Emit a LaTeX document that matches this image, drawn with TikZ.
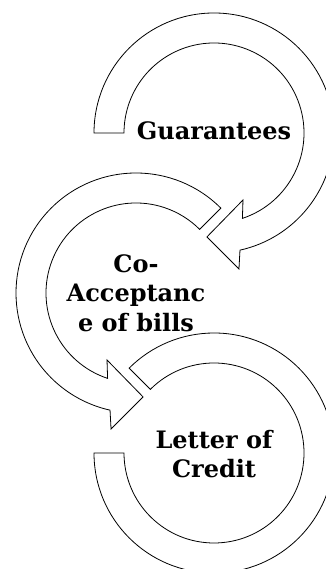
\documentclass[tikz,border=0pt]{standalone}
\usepackage{fontspec}
\newfontfamily\slabfont{DejaVu Serif}
\usetikzlibrary{calc}
\tikzset{
  band/.style={draw, fill=white, line width=0.8pt},
  lbl/.style={font=\slabfont\bfseries\fontsize{24}{29.5}\selectfont, align=center, inner sep=0pt},
}

\begin{document}
\begin{tikzpicture}[x=1pt, y=1pt]
  \useasboundingbox (0,0) rectangle (325,569);
  \coordinate (c1) at (214,436);
  \coordinate (c2) at (136,276);
  \coordinate (c3) at (214,116);

  % first arrow, turns clockwise
  \draw[band] ($(c1)+(180:120)$) arc[start angle=180, end angle=-77.5, radius=120]
    -- ($(c1)+(-79.6:138.3)$) -- ($(c1)+(-93.9:104.2)$) -- ($(c1)+(-66.6:73)$)
    -- ($(c1)+(-71.6:90)$) arc[start angle=-71.6, end angle=180, radius=90] -- cycle;
  % second arrow, turns the other way
  \draw[band] ($(c2)+(45:120)$) arc[start angle=45, end angle=257.5, radius=120]
    -- ($(c2)+(259.6:138.3)$) -- ($(c2)+(273.9:104.2)$) -- ($(c2)+(246.6:73)$)
    -- ($(c2)+(251.6:90)$) arc[start angle=251.6, end angle=45, radius=90] -- cycle;
  % last one has no head
  \draw[band] ($(c3)+(180:120)$) arc[start angle=180, end angle=495, radius=120]
    -- ($(c3)+(135:90)$) arc[start angle=495, end angle=180, radius=90] -- cycle;

  \node[lbl] (guar) at ($(c1)+(0,2.6)$) {Guarantees};
  \node[lbl] (coacc) at (c2) {Co-\\Acceptanc\\e of bills};
  \node[lbl] (loc) at ($(c3)+(0,-1)$) {Letter of\\Credit};
\end{tikzpicture}
\end{document}
